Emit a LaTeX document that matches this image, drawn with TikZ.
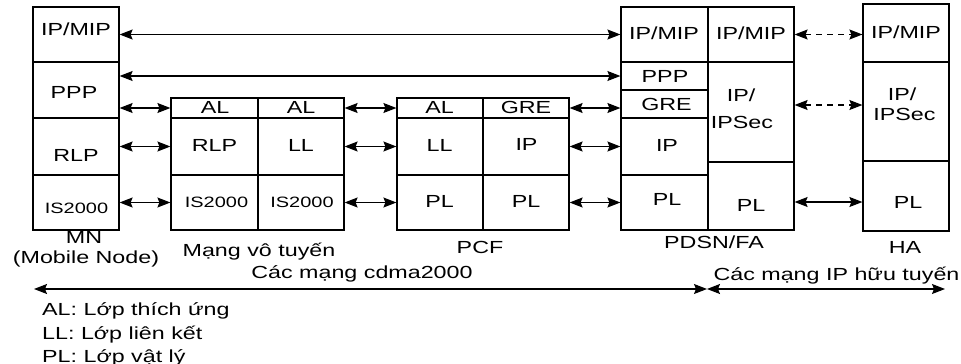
\documentclass[tikz,border=0pt]{standalone}
\usepackage{fontspec}
\setmainfont[FakeStretch=1.33]{Liberation Sans}
\usetikzlibrary{arrows.meta,fit}
\begin{document}
\begin{tikzpicture}[x=1pt,y=-1pt,
  cell/.style={draw=black,line width=1.2pt,inner sep=0pt,fill=none},
  txt/.style={anchor=base,inner sep=0pt,font=\fontsize{17.5}{20}\selectfont},
  stxt/.style={anchor=base,inner sep=0pt,font=\fontsize{15}{18}\selectfont},
  ltxt/.style={anchor=base west,inner sep=0pt,font=\fontsize{17.5}{20}\selectfont},
  arr/.style={{Stealth[length=13pt,width=10pt,inset=2pt]}-{Stealth[length=13pt,width=10pt,inset=2pt]},line width=1.1pt},
  darr/.style={arr,dash pattern=on 6pt off 5pt}]
\path[use as bounding box] (0,0) rectangle (961,364);
% MN
\node[cell,fit={(33,7)(119,62)}] (mn1) {};
\node[cell,fit={(33,62)(119,118)}] (mn2) {};
\node[cell,fit={(33,118)(119,175)}] (mn3) {};
\node[cell,fit={(33,175)(119,230)}] (mn4) {};
% Mang vo tuyen
\node[cell,fit={(171,98)(258,118)}] (va1) {};
\node[cell,fit={(258,98)(344,118)}] (vb1) {};
\node[cell,fit={(171,118)(258,175)}] (va2) {};
\node[cell,fit={(258,118)(344,175)}] (vb2) {};
\node[cell,fit={(171,175)(258,230)}] (va3) {};
\node[cell,fit={(258,175)(344,230)}] (vb3) {};
% PCF
\node[cell,fit={(397,98)(483,118)}] (pa1) {};
\node[cell,fit={(483,98)(569,118)}] (pb1) {};
\node[cell,fit={(397,118)(483,175)}] (pa2) {};
\node[cell,fit={(483,118)(569,175)}] (pb2) {};
\node[cell,fit={(397,175)(483,230)}] (pa3) {};
\node[cell,fit={(483,175)(569,230)}] (pb3) {};
% PDSN/FA
\node[cell,fit={(621,7)(708,62)}] (da1) {};
\node[cell,fit={(621,62)(708,90)}] (da2) {};
\node[cell,fit={(621,90)(708,118)}] (da3) {};
\node[cell,fit={(621,118)(708,175)}] (da4) {};
\node[cell,fit={(621,175)(708,230)}] (da5) {};
\node[cell,fit={(708,7)(794,62)}] (db1) {};
\node[cell,fit={(708,62)(794,162)}] (db2) {};
\node[cell,fit={(708,162)(794,230)}] (db3) {};
% HA
\node[cell,fit={(863,4)(949,62)}] (h1) {};
\node[cell,fit={(863,62)(949,161)}] (h2) {};
\node[cell,fit={(863,161)(949,231)}] (h3) {};
% texts MN
\node[txt] (t1) at (76,35.5) {IP/MIP};
\node[txt] (t2) at (74,98) {PPP};
\node[txt] (t3) at (76,161) {RLP};
\node[stxt] (t4) at (76.5,213.5) {IS2000};
% texts MVT
\node[txt] (t5) at (215,113.5) {AL};
\node[txt] (t6) at (301,113.5) {AL};
\node[txt] (t7) at (214.5,151) {RLP};
\node[txt] (t8) at (301,151) {LL};
\node[stxt] (t9) at (216.5,207.5) {IS2000};
\node[stxt] (t10) at (302,207.5) {IS2000};
% texts PCF
\node[txt] (t11) at (439.5,113.5) {AL};
\node[txt] (t12) at (526,113) {GRE};
\node[txt] (t13) at (439.5,151) {LL};
\node[txt] (t14) at (526.5,150) {IP};
\node[txt] (t15) at (439.5,207) {PL};
\node[txt] (t16) at (526,207) {PL};
% texts PDSN
\node[txt] (t17) at (664,39) {IP/MIP};
\node[txt] (t18) at (751,39) {IP/MIP};
\node[txt] (t19) at (665,82.5) {PPP};
\node[txt] (t20) at (666.5,110) {GRE};
\node[txt] (t21) at (667,151) {IP};
\node[txt] (t22) at (667,205) {PL};
\node[txt] (t23) at (741,101.5) {IP/};
\node[txt] (t24) at (742,128) {IPSec};
\node[txt] (t25) at (751,211) {PL};
% texts HA
\node[txt] (t26) at (906,38) {IP/MIP};
\node[txt] (t27) at (902,100) {IP/};
\node[txt] (t28) at (904.5,120) {IPSec};
\node[txt] (t29) at (908,208) {PL};
% captions
\node[txt] (c1) at (84,243) {MN};
\node[txt] (c2) at (86,263.5) {(Mobile Node)};
\node[txt] (c3) at (259,256) {Mạng vô tuyến};
\node[txt] (c4) at (480,253) {PCF};
\node[txt] (c5) at (714,248) {PDSN/FA};
\node[txt] (c6) at (905,253.5) {HA};
\node[txt] (c7) at (362,278) {Các mạng cdma2000};
\node[txt] (c8) at (836.5,280.5) {Các mạng IP hữu tuyến};
\node[ltxt] (l1) at (42,315) {AL: Lớp thích ứng};
\node[ltxt] (l2) at (42,339) {LL: Lớp liên kết};
\node[ltxt] (l3) at (42,362) {PL: Lớp vật lý};
% connectors
\draw[arr] (mn1.east) -- (da1.west);
\draw[arr] (mn2.east |- da2.west) -- (da2.west);
\draw[arr] (mn2.east |- va1.west) -- (va1.west);
\draw[arr] (vb1.east) -- (pa1.west);
\draw[arr] (pb1.east) -- (da3.west |- pb1.east);
\draw[arr] (mn3.east) -- (va2.west);
\draw[arr] (vb2.east) -- (pa2.west);
\draw[arr] (pb2.east) -- (da4.west);
\draw[arr] (mn4.east) -- (va3.west);
\draw[arr] (vb3.east) -- (pa3.west);
\draw[arr] (pb3.east) -- (da5.west);
\draw[darr] (db1.east) -- (h1.west |- db1.east);
\coordinate (s1) at ([yshift=7pt]db2.east);
\draw[darr] (s1) -- (s1 -| h2.west);
\coordinate (s2) at ([yshift=-6pt]db3.east);
\draw[arr] (s2) -- (s2 -| h3.west);
\coordinate (b1) at (34,289);
\coordinate (bm) at (707,289);
\coordinate (b2) at (945,289);
\draw[arr] (b1) -- (bm);
\draw[arr] (bm) -- (b2);
\end{tikzpicture}
\end{document}
